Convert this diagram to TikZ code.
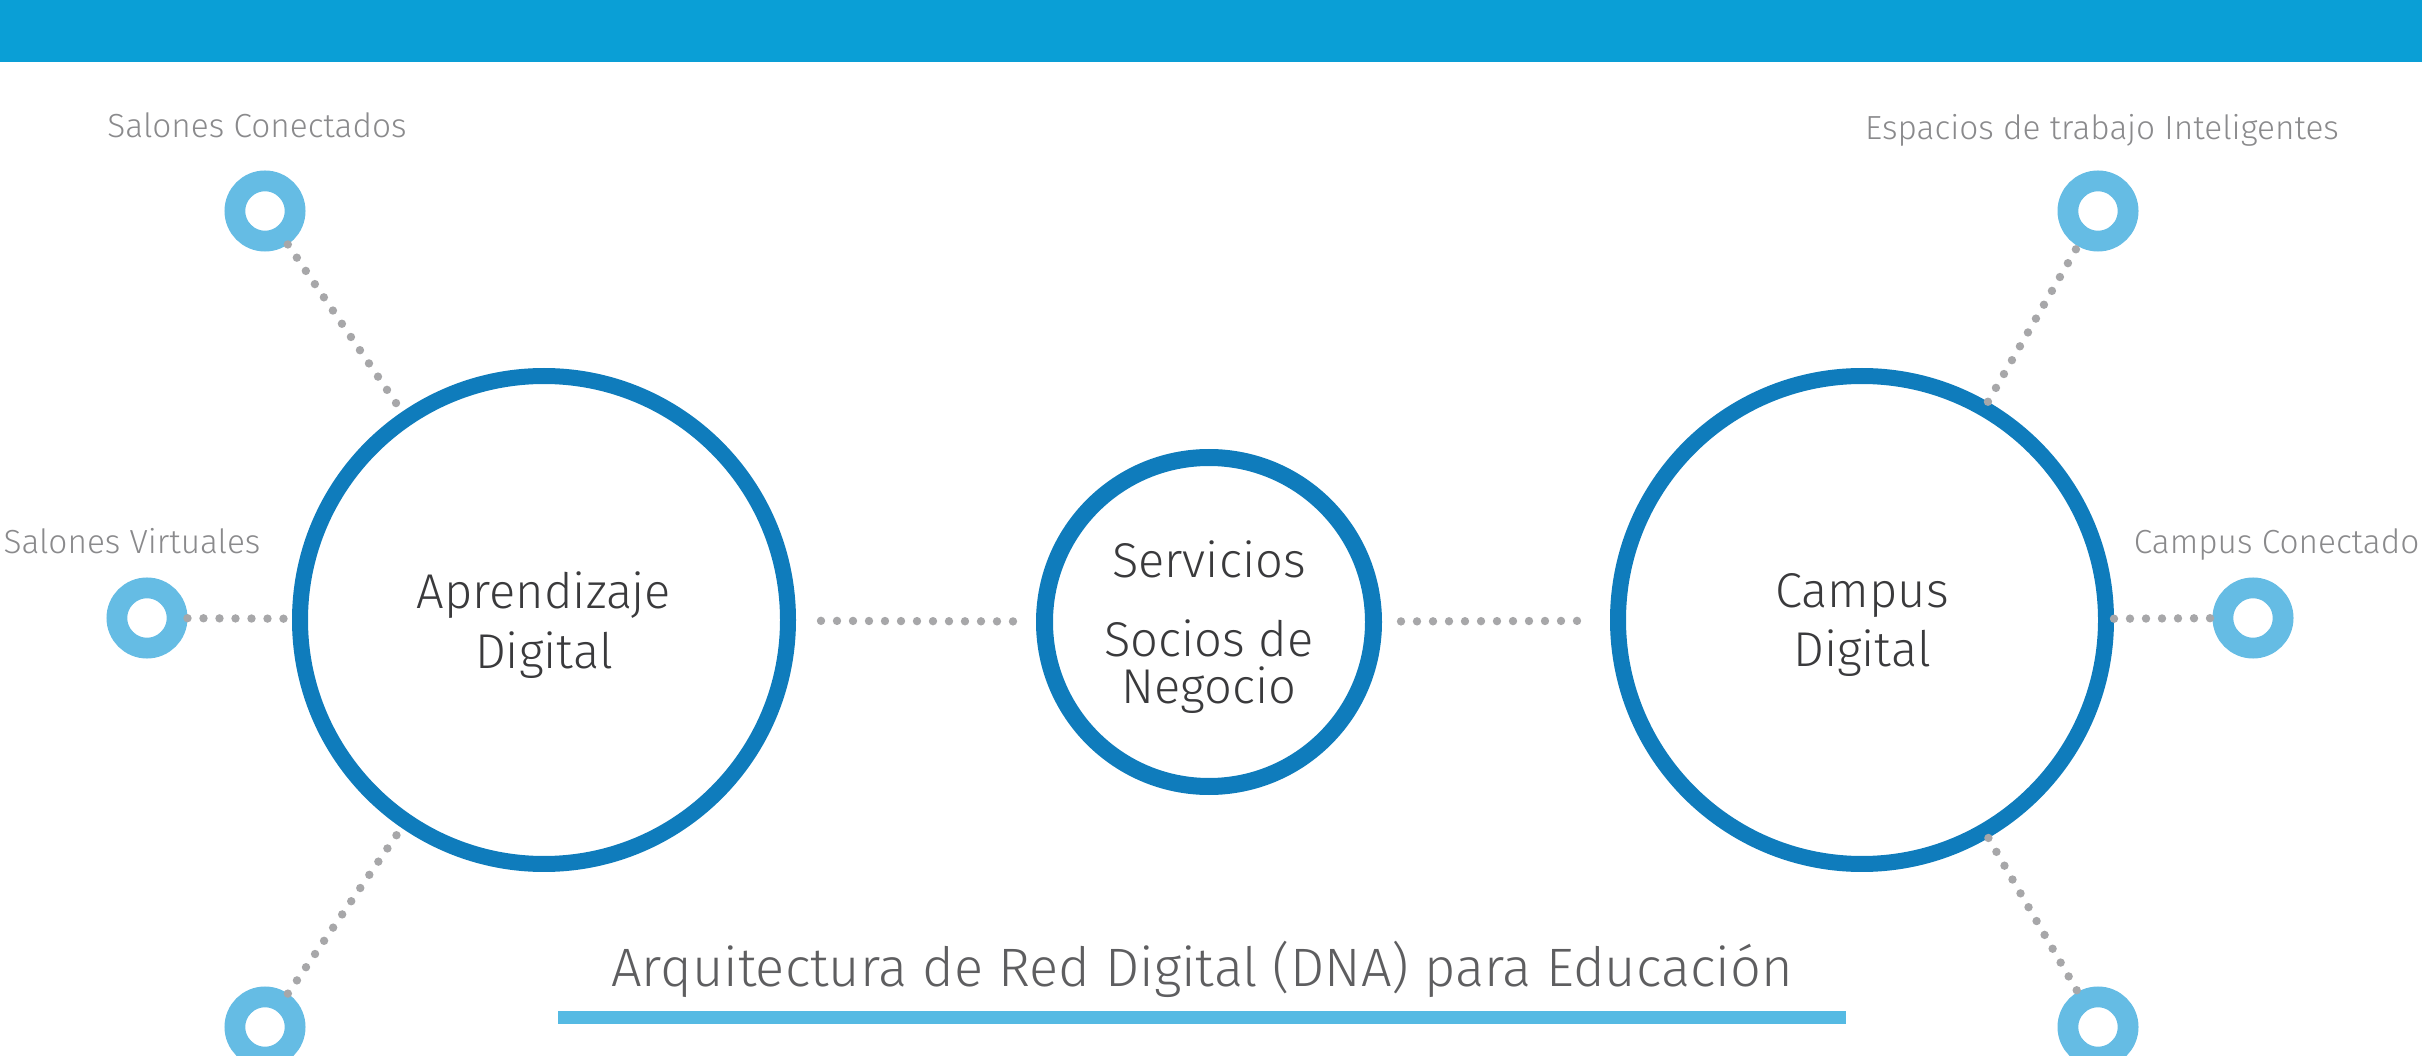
\documentclass[tikz,border=0pt]{standalone}
\usepackage{fontspec}
\IfFontExistsTF{Fira Sans Light}{\setmainfont{Fira Sans Light}}{\setmainfont{Liberation Sans}}
\usepackage{tikz}
\usetikzlibrary{shapes}
\usetikzlibrary{positioning}
\definecolor{dnabanner}{HTML}{0A9FD6}
\definecolor{dnablue}{HTML}{0F7CBC}
\definecolor{dnaring}{HTML}{65BCE4}
\definecolor{dnabar}{HTML}{55BAE3}
\definecolor{dnadot}{HTML}{A7A7A9}
\definecolor{dnagrey}{HTML}{8A8A8C}
\definecolor{dnatext}{HTML}{3A3A3C}
\definecolor{dnatitle}{HTML}{5E5E60}
\tikzset{
    mynodeb/.style = {circle, draw=dnablue, line width=1.6mm, minimum size=48.8mm, inner sep=0pt, align=center, text=dnatext, text depth=0pt, font=\fontsize{13.9}{17}\selectfont},
    mynodec/.style = {circle, draw=dnablue, line width=1.7mm, minimum size=32.9mm, inner sep=0pt, align=center, text=dnatext, text depth=0pt, font=\fontsize{13.9}{13.4}\selectfont},
    mynoder/.style = {circle, draw=dnaring, line width=2.08mm, minimum size=6.02mm, inner sep=0pt},
    labeln/.style = {anchor=base, inner sep=0pt, text=dnagrey, font=\fontsize{9.5}{12}\selectfont},
    titlen/.style = {anchor=base, inner sep=0pt, text=dnatitle, font=\fontsize{15.4}{19}\selectfont},
    edged/.style = {draw=dnadot, line width=0.84mm, line cap=round, dash pattern=on 0pt off 1.6mm}, % dotted link
}

\begin{document}
\begin{tikzpicture}[x=0.1mm,y=-0.1mm]
\useasboundingbox (0,0) rectangle (2422,1056);
\fill[dnabanner] (0,0) rectangle (2422,62);
%
\node[mynodeb] at (544,620) (aprend) {Aprendizaje\\Digital};
\node[mynodec] at (1209,622) (serv) {Servicios\\[9.1pt]Socios de\\Negocio};
\node[mynodeb] at (1862,620) (campus) {Campus\\Digital};
\node[mynoder] at (265,211) (rlt) {};
\node[mynoder] at (147,618) (rlm) {};
\node[mynoder] at (265,1027) (rlb) {};
\node[mynoder] at (2098,211) (rrt) {};
\node[mynoder] at (2253,618) (rrm) {};
\node[mynoder] at (2098,1027) (rrb) {};
\node[labeln] at (257,138) (llt) {Salones Conectados};
\node[labeln] at (132,553) (llm) {Salones Virtuales};
\node[labeln] at (2102,140) (lrt) {Espacios de trabajo Inteligentes};
\node[labeln,anchor=base east] at (2420,553) (lrm) {Campus Conectado};
\node[titlen] at (1202,986) (title) {Arquitectura de Red Digital (DNA) para Educación};
\fill[dnabar] (558,1011) rectangle (1846,1024);
%
\draw[edged] (rlt) edge (aprend);
\draw[edged] (rlm) edge (aprend);
\draw[edged] (rlb) edge (aprend);
\draw[edged] (campus) edge (rrt);
\draw[edged] (campus) edge (rrm);
\draw[edged] (campus) edge (rrb);
\draw[edged,shorten <=2.5mm,shorten >=1.8mm] (aprend) edge (serv);
\draw[edged,shorten <=1.9mm,shorten >=1.9mm] (serv) edge (campus);
\end{tikzpicture}
\end{document}
